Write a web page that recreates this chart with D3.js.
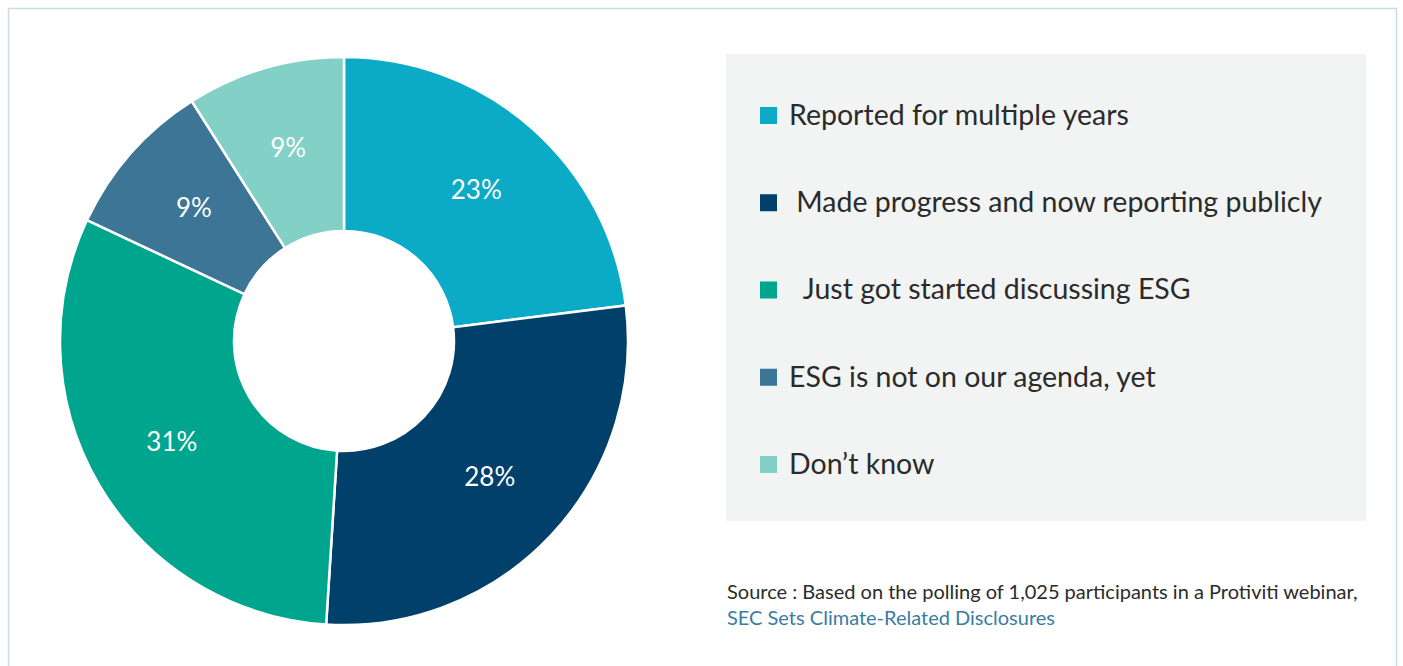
<!DOCTYPE html>
<html>
<head>
<meta charset="utf-8">
<script src="https://cdn.jsdelivr.net/npm/d3@7"></script>
<style>
  html, body { margin: 0; padding: 0; background: #fff; }
  svg text { font-family: Lato, "Open Sans", sans-serif; white-space: pre; }
</style>
</head>
<body>
<svg id="chart" width="1403" height="666"></svg>
<script>
var labels = ['Reported for multiple years', ' Made progress and now reporting publicly', '  Just got started discussing ESG', 'ESG is not on our agenda, yet', 'Don\u2019t know'];
var values = [23, 28, 31, 9, 9];
var colors = ['#0babc7', '#00406a', '#00a58e', '#3c7596', '#82d0c6'];
var sourceText = 'Source : Based on the polling of 1,025 participants in a Protiviti webinar,';
var linkText = 'SEC Sets Climate-Related Disclosures';

var svg = d3.select('#chart');

// outer frame
svg.append('rect')
  .attr('x', 8.5).attr('y', 8.5)
  .attr('width', 1388).attr('height', 700)
  .attr('fill', 'none')
  .attr('stroke', '#c8dbe7')
  .attr('stroke-width', 1.5);

var cx = 344, cy = 341, outerR = 284, innerR = 110;

var pie = d3.pie().sort(null).value(function(d){ return d; });
var arc = d3.arc().innerRadius(innerR).outerRadius(outerR);
var labelArc = d3.arc().innerRadius(118).outerRadius(282);

var g = svg.append('g').attr('transform', 'translate(' + cx + ',' + cy + ')');
var arcs = pie(values);

g.selectAll('path')
  .data(arcs)
  .enter().append('path')
  .attr('d', arc)
  .attr('fill', function(d, i){ return colors[i]; })
  .attr('stroke', '#fff')
  .attr('stroke-width', 2.5);

g.selectAll('text.pct')
  .data(arcs)
  .enter().append('text')
  .attr('class', 'pct')
  .attr('transform', function(d){ return 'translate(' + labelArc.centroid(d) + ')'; })
  .attr('text-anchor', 'middle')
  .attr('dy', '0.3em')
  .attr('fill', '#fff')
  .attr('font-size', 26)
  .text(function(d){ return d.data + '%'; });

// legend panel
svg.append('rect')
  .attr('x', 726).attr('y', 54)
  .attr('width', 640).attr('height', 467)
  .attr('fill', '#f2f4f3');

var ly = d3.scalePoint().domain(labels.map(function(d, i){ return i; })).range([115, 464]);

var item = svg.selectAll('g.leg')
  .data(labels)
  .enter().append('g')
  .attr('class', 'leg')
  .attr('transform', function(d, i){ return 'translate(0,' + ly(i) + ')'; });

item.append('rect')
  .attr('x', 760).attr('y', -8)
  .attr('width', 17).attr('height', 17)
  .attr('fill', function(d, i){ return colors[i]; });

item.append('text')
  .attr('x', 789)
  .attr('dy', '0.35em')
  .attr('font-size', 28.5)
  .attr('fill', '#2b2b2b')
  .text(function(d){ return d; });

// source
svg.append('text')
  .attr('x', 727).attr('y', 599)
  .attr('font-size', 20)
  .attr('fill', '#2b2b2b')
  .text(sourceText);

svg.append('text')
  .attr('x', 727).attr('y', 625)
  .attr('font-size', 20)
  .attr('fill', '#3a7ca3')
  .text(linkText);
</script>
</body>
</html>
